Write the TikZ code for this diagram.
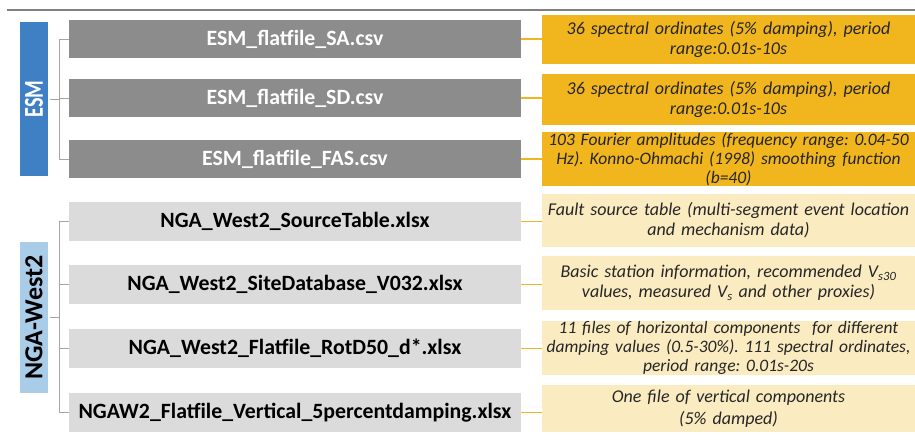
\documentclass[tikz,border=0pt]{standalone}
\usepackage{fontspec}
\usepackage{graphicx}
\setmainfont{Carlito}
\usetikzlibrary{positioning,calc}
\definecolor{esmblue}{HTML}{3F80C4}
\definecolor{ngablue}{HTML}{A9CDE9}
\definecolor{filedark}{HTML}{8C8C8C}
\definecolor{filelight}{HTML}{DBDBDB}
\definecolor{noteamber}{HTML}{F1B51D}
\definecolor{notecream}{HTML}{FAEBC1}
\definecolor{rulegray}{HTML}{A5A5A5}
\tikzset{group/.style={rectangle,inner sep=0pt,minimum width=28pt,font=\fontsize{26}{28}\selectfont\bfseries},file/.style={rectangle,inner sep=0pt,minimum width=452pt,minimum height=39pt,font=\fontsize{21.8}{24}\selectfont\bfseries},note/.style={rectangle,inner sep=0pt,minimum width=373pt,text width=369pt,align=center,text=black!85,font=\fontsize{18}{20}\selectfont\itshape},bracket/.style={draw=rulegray,line width=.8pt},link/.style={draw=noteamber,line width=1.2pt}}

\begin{document}
\frenchspacing
\begin{tikzpicture}[x=1pt,y=-1pt]
\useasboundingbox (0,0) rectangle (915,439);
\draw[black!50,line width=1.2pt] (7,10)--(915,10);
% group bars
\node[group,fill=esmblue,text=white,minimum height=154pt] (esm) at (34,99) {\rotatebox{90}{\scalebox{.78}[1.05]{ESM}}};
\node[group,fill=ngablue,minimum height=151pt] (nga) at (34,317.5) {\rotatebox{90}{NGA-West2}};
% file names
\foreach \n/\y/\t in {sa/39/ESM\_flatfile\_SA.csv,sd/98/ESM\_flatfile\_SD.csv,fas/159/ESM\_flatfile\_FAS.csv}{\node[file,fill=filedark,text=white,minimum height=38pt] (\n) at (295,\y) {\t};}
\foreach \n/\y/\t in {src/221.5/NGA\_West2\_SourceTable.xlsx,site/284.5/NGA\_West2\_SiteDatabase\_V032.xlsx,rot/348.5/NGA\_West2\_Flatfile\_RotD50\_d*.xlsx,vert/412.5/NGAW2\_Flatfile\_Vertical\_5percentdamping.xlsx}{\node[file,fill=filelight] (\n) at (295,\y) {\t};}
% descriptions
\node[note,fill=noteamber,minimum height=49pt] (nsa) at (728.5,39.5) {36 spectral ordinates (5\% damping), period\\range:0.01s-10s};
\node[note,fill=noteamber,minimum height=51pt] (nsd) at (728.5,99.5) {36 spectral ordinates (5\% damping), period\\range:0.01s-10s};
\node[note,fill=noteamber,minimum height=52pt,font=\fontsize{17.5}{19}\selectfont\itshape] (nfas) at (728.5,159) {\makebox[369pt]{103 Fourier amplitudes (frequency range: 0.04-50}\\Hz). Konno-Ohmachi (1998) smoothing function\\(b=40)};
\node[note,fill=notecream,minimum height=53pt] (nsrc) at (728.5,220.5) {\makebox[369pt]{Fault source table (multi-segment event location}\\and mechanism data)};
\node[note,fill=notecream,minimum height=54pt] (nsite) at (728.5,283) {Basic station information, recommended V\textsubscript{s30}\\values, measured V\textsubscript{s} and other proxies)};
\node[note,fill=notecream,minimum height=54pt,font=\fontsize{17.5}{19}\selectfont\itshape] (nrot) at (728.5,348) {11 files of horizontal components\ \ for different\\\makebox[369pt]{damping values (0.5-30\%). 111 spectral ordinates,}\\period range: 0.01s-20s};
\node[note,fill=notecream,minimum height=47pt] (nvert) at (728.5,408.5) {One file of vertical components\\[2pt](5\% damped)};
% brackets
\draw[bracket,shorten <=2pt] (esm.east) -- ++(11,0) coordinate (esmb);
\draw[bracket] (esmb |- sa.west) -- (esmb |- fas.west);
\foreach \n in {sa,sd,fas}{\draw[bracket] (esmb |- \n.west) -- (\n.west);}
\draw[bracket,shorten <=2pt] (nga.east) -- ++(11,0) coordinate (ngab);
\draw[bracket] (ngab |- src.west) -- (ngab |- vert.west);
\foreach \n in {src,site,rot,vert}{\draw[bracket] (ngab |- \n.west) -- (\n.west);}
% links
\foreach \n in {sa,sd,fas,src,site,rot,vert}{\draw[link] (\n.east) -- (\n.east -| n\n.west);}
\end{tikzpicture}
\end{document}
